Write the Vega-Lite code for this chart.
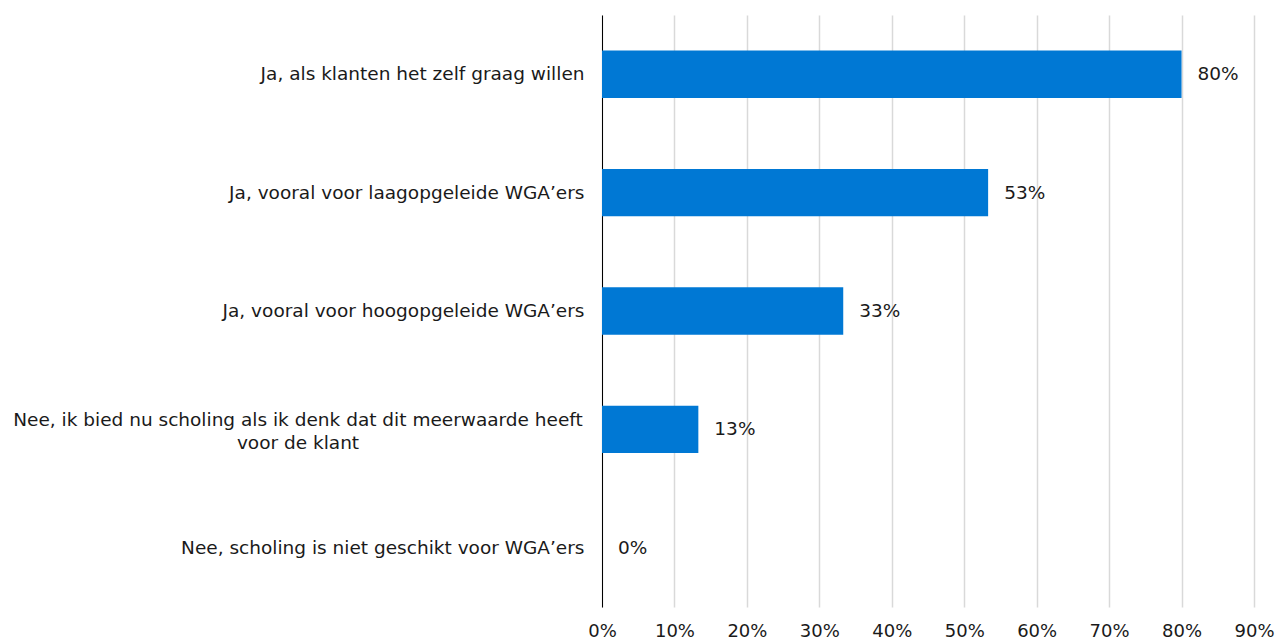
{
  "$schema": "https://vega.github.io/schema/vega-lite/v6.json",
  "width": 652,
  "height": 592,
  "autosize": {"type": "none"},
  "padding": {"left": 602, "top": 15, "right": 23, "bottom": 34},
  "background": "white",
  "config": {"view": {"stroke": null}, "font": "DejaVu Sans"},
  "data": {"values": [
    {"answer": "Ja, als klanten het zelf graag willen", "share": 0.8},
    {"answer": "Ja, vooral voor laagopgeleide WGA’ers", "share": 0.533},
    {"answer": "Ja, vooral voor hoogopgeleide WGA’ers", "share": 0.333},
    {"answer": "Nee, ik bied nu scholing als ik denk dat dit meerwaarde heeft voor de klant", "share": 0.133},
    {"answer": "Nee, scholing is niet geschikt voor WGA’ers", "share": 0}
  ]},
  "encoding": {
    "y": {
      "field": "answer", "type": "nominal", "sort": null,
      "scale": {"paddingInner": 0.6, "paddingOuter": 0.3},
      "axis": {
        "title": null, "ticks": false, "domain": true, "domainColor": "#000000", "domainWidth": 1,
        "labelFont": "DejaVu Sans", "labelFontSize": 18.5, "labelColor": "#1a1a1a",
        "labelPadding": 18, "labelLimit": 700,
        "labelExpr": "datum.value == 'Nee, ik bied nu scholing als ik denk dat dit meerwaarde heeft voor de klant' ? '' : datum.value"
      }
    },
    "x": {
      "field": "share", "type": "quantitative",
      "scale": {"domain": [0, 0.9], "nice": false},
      "axis": {
        "title": null, "format": ".0%", "values": [0, 0.1, 0.2, 0.3, 0.4, 0.5, 0.6, 0.7, 0.8, 0.9],
        "domain": false, "ticks": false, "grid": true, "gridColor": "#d9d9d9", "gridWidth": 1.5,
        "labelFlush": false, "labelAlign": "center",
        "labelFont": "DejaVu Sans", "labelFontSize": 18, "labelColor": "#1a1a1a", "labelPadding": 15
      }
    }
  },
  "layer": [
    {"mark": {"type": "bar", "color": "#0078D4"}},
    {"mark": {"type": "text", "align": "left", "dx": 16, "font": "DejaVu Sans", "fontSize": 18.5, "color": "#1a1a1a"},
     "encoding": {"text": {"field": "share", "type": "quantitative", "format": ".0%"}}},
    {"transform": [{"filter": "datum.answer == 'Nee, ik bied nu scholing als ik denk dat dit meerwaarde heeft voor de klant'"}],
     "mark": {"type": "text", "align": "center", "baseline": "middle", "dx": -304, "dy": -9, "font": "DejaVu Sans", "fontSize": 18.5, "lineHeight": 23, "color": "#1a1a1a"},
     "encoding": {"x": {"datum": 0}, "text": {"value": ["Nee, ik bied nu scholing als ik denk dat dit meerwaarde heeft", "voor de klant"]}}}
  ]
}
